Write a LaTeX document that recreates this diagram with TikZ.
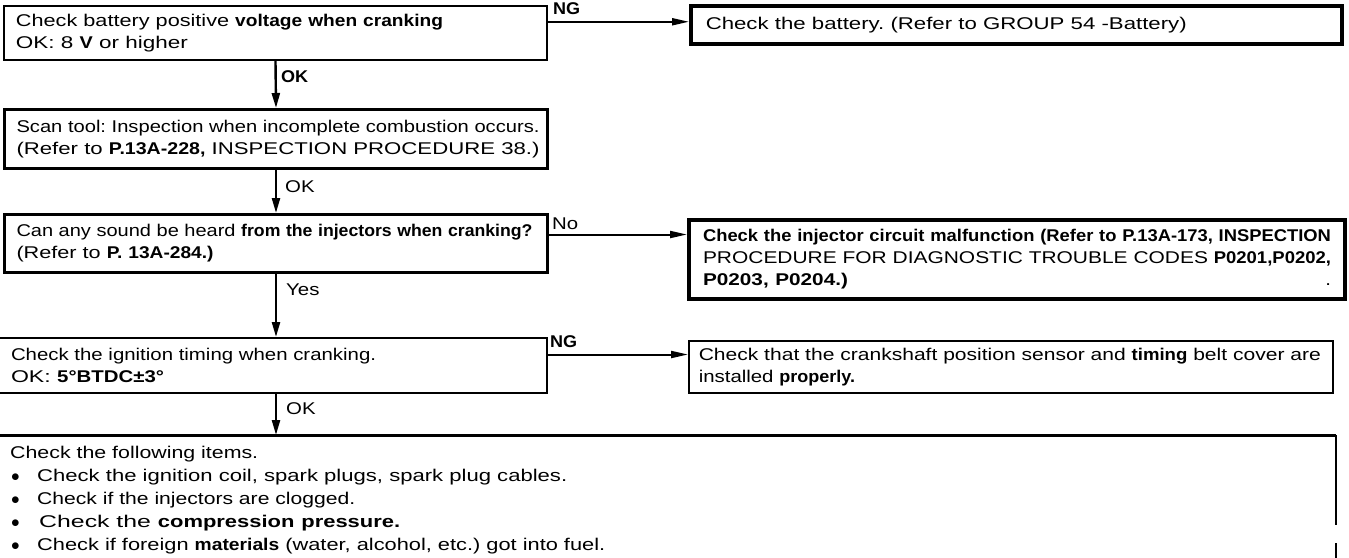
\documentclass[tikz,border=0pt]{standalone}
\usepackage{graphicx}
\usepackage{fontspec}
\setmainfont{Liberation Sans}[FakeStretch=1.2,WordSpace=1.7]
\newfontfamily\bfam{Liberation Sans}[FakeStretch=1.06]
\newcommand{\bo}[1]{{\bfam\bfseries #1}}
\newcommand{\bul}{\makebox[27pt][l]{\hspace{1pt}$\bullet$}}
\newcommand{\fitline}[2]{\resizebox{#1}{\height}{#2}}
\usetikzlibrary{arrows.meta}
\begin{document}
\frenchspacing
\begin{tikzpicture}[x=1pt,y=-1pt,
  every node/.style={font=\fontsize{17}{22}\selectfont},
  box/.style={draw, anchor=north west, align=left, inner ysep=0pt},
  varrow/.style={line width=2.4pt, -{Triangle[length=15pt,width=8pt]}},
  harrow/.style={line width=2pt, -{Triangle[length=17pt,width=7pt]}},
  lab/.style={anchor=base west, inner sep=0pt}]
\useasboundingbox (0,0) rectangle (1349,557);
% left column
\node[box, line width=2pt, minimum height=54pt, text width=519pt, inner xsep=12pt] (b1) at (3,5)
  {\fitline{427pt}{Check battery positive \bo{voltage when cranking}}\\\fitline{172pt}{OK: 8 \bo{V} or higher}};
\node[box, line width=3pt, minimum height=59pt, text width=519pt, inner xsep=12pt] (b2) at (3,108)
  {\fitline{523pt}{Scan tool: Inspection when incomplete combustion occurs.}\\\fitline{523pt}{(Refer to \bo{P.13A-228,} INSPECTION PROCEDURE 38.)}};
\node[box, line width=3pt, minimum height=58pt, text width=519pt, inner xsep=12pt] (b3) at (3,213)
  {\fitline{516pt}{Can any sound be heard \bo{from the injectors when cranking?}}\\\fitline{197pt}{(Refer to \bo{P. 13A-284.)}}};
\node[box, line width=2pt, minimum height=55pt, text width=521pt, inner xsep=15pt] (b4) at (-5,337)
  {\mbox{Check the ignition timing when cranking.}\\\fitline{153pt}{OK: \bo{5°BTDC±3°}}};
% right column
\node[box, line width=3.5pt, minimum height=38pt, text width=621pt, inner xsep=15pt] (r1) at (689,4)
  {\fitline{481pt}{Check the battery. (Refer to GROUP 54 -Battery)}};
\node[box, line width=4pt, minimum height=79pt, text width=628pt, inner xsep=14pt] (r2) at (687,218)
  {\fitline{628pt}{\bo{Check the injector circuit malfunction (Refer to P.13A-173, INSPECTION}}\\
   \fitline{628pt}{PROCEDURE FOR DIAGNOSTIC TROUBLE CODES \bo{P0201,P0202,}}\\
   \fitline{145pt}{\bo{P0203, P0204.)}}\hfill.};
\node[box, line width=1.5pt, minimum height=52pt, text width=624pt, inner xsep=10pt] (r3) at (688,340)
  {\fitline{622pt}{Check that the crankshaft position sensor and \bo{timing} belt cover are}\\
   \mbox{installed \bo{properly.}}};
% final box
\node[anchor=north west, align=left, inner xsep=15pt, inner ysep=10.5pt, text width=1311pt,
      font=\fontsize{17}{23}\selectfont] (f) at (-5,435)
  {\fitline{248pt}{Check the following items.}\\
   \bul\fitline{530pt}{Check the ignition coil, spark plugs, spark plug cables.}\\
   \bul\fitline{318pt}{Check if the injectors are clogged.}\\
   \bul\hspace{2pt}\fitline{361pt}{Check the \bo{compression pressure.}}\\
   \bul\fitline{568pt}{Check if foreign \bo{materials} (water, alcohol, etc.) got into fuel.}};
\draw[line width=3pt] (f.north west) -- (f.north east);
\draw[line width=2pt] (f.north east) -- ([yshift=-90pt]f.north east);
\draw[line width=2pt] ([yshift=-108pt]f.north east) -- ([yshift=-130pt]f.north east);
% vertical connectors
\draw[varrow] (b1.south) -- (b2.north);
\node[lab] (ok1) at (281,82) {\bo{OK}};
\draw[varrow] (b2.south) -- (b3.north);
\node[lab] (ok2) at (285,192) {OK};
\draw[varrow] (b3.south) -- (b3.south |- b4.north);
\node[lab] (yes) at (286,295) {Yes};
\draw[varrow] (b3.south |- b4.south) -- (b3.south |- f.north);
\node[lab] (ok3) at (286,414) {OK};
% horizontal connectors
\coordinate (a1) at ([yshift=3pt]r1.west);
\draw[harrow] (b1.east |- a1) -- (a1);
\node[lab] (ng1) at (553,14) {\bo{NG}};
\coordinate (a3) at ([yshift=9pt]b3.east);
\draw[harrow] (a3) -- (a3 -| r2.west);
\node[lab] (no) at (552,229) {No};
\coordinate (a4) at ([yshift=11pt]b4.east);
\draw[harrow] (a4) -- (a4 -| r3.west);
\node[lab] (ng2) at (550,347) {\bo{NG}};
\end{tikzpicture}
\end{document}
